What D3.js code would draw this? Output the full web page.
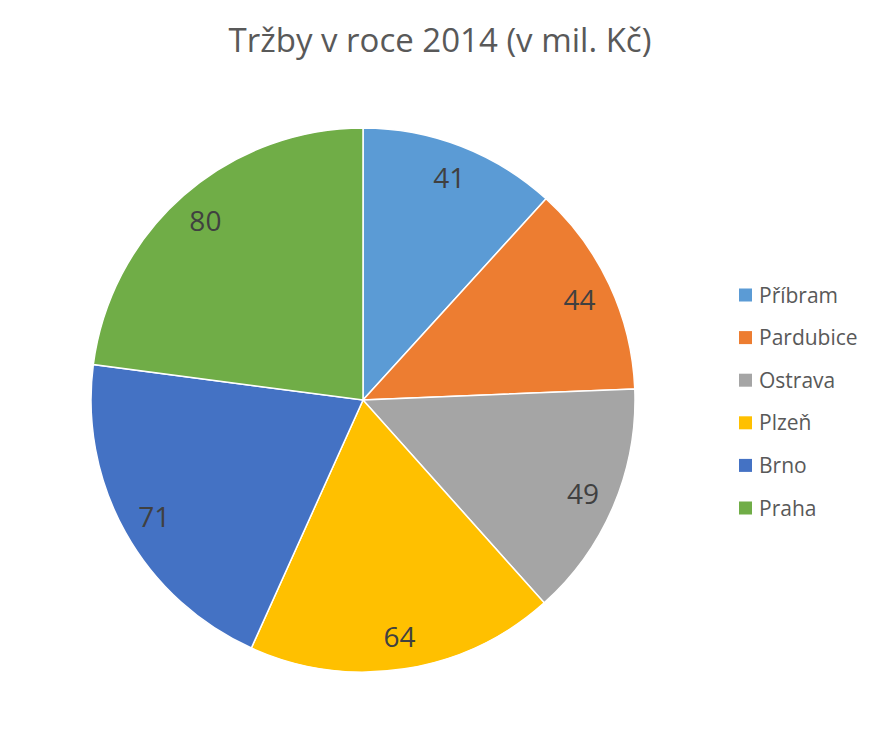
<!DOCTYPE html>
<html><head><meta charset="utf-8">
<script src="https://cdn.jsdelivr.net/npm/d3@7"></script>
<style>body{margin:0;background:#fff}svg{display:block}</style>
</head><body>
<script>
const categories = ["Příbram","Pardubice","Ostrava","Plzeň","Brno","Praha"];
const values = [41,44,49,64,71,80];
const colors = ["#5B9BD5","#ED7D31","#A5A5A5","#FFC000","#4472C4","#70AD47"];
const title = "Tržby v roce 2014 (v mil. Kč)";

const W=881,H=738, cx=363, cy=400, R=272;
const font = "'Open Sans', 'Liberation Sans', sans-serif";
const svg = d3.select("body").append("svg").attr("width",W).attr("height",H);

svg.append("text").attr("x",440).attr("y",52).attr("text-anchor","middle")
  .attr("font-family",font).attr("font-size",33).attr("fill","#595959").text(title);

const data = categories.map((c,i)=>({c,v:values[i],col:colors[i]}));
const pie = d3.pie().value(d=>d.v).sort(null);
const arc = d3.arc().innerRadius(0).outerRadius(R);
const labelArc = d3.arc().innerRadius(239).outerRadius(239);
const g = svg.append("g").attr("transform",`translate(${cx},${cy})`);
const arcs = pie(data);
g.selectAll("path").data(arcs).join("path").attr("d",arc)
  .attr("fill",d=>d.data.col).attr("stroke","#fff").attr("stroke-width",1.5);
g.selectAll("text").data(arcs).join("text")
  .attr("transform",d=>`translate(${labelArc.centroid(d)})`)
  .attr("text-anchor","middle").attr("dy","0.38em")
  .attr("font-family",font).attr("font-size",28).attr("fill","#404040")
  .text(d=>d.data.v);

const lg = svg.append("g");
const ly = d3.scalePoint().domain(categories).range([295,508]);
categories.forEach((c,i)=>{
  lg.append("rect").attr("x",739).attr("y",ly(c)-6.5).attr("width",13).attr("height",13).attr("fill",colors[i]);
  lg.append("text").attr("x",759).attr("y",ly(c)).attr("dy","0.36em")
    .attr("font-family",font).attr("font-size",21).attr("fill","#595959").text(c);
});
</script>
</body></html>
